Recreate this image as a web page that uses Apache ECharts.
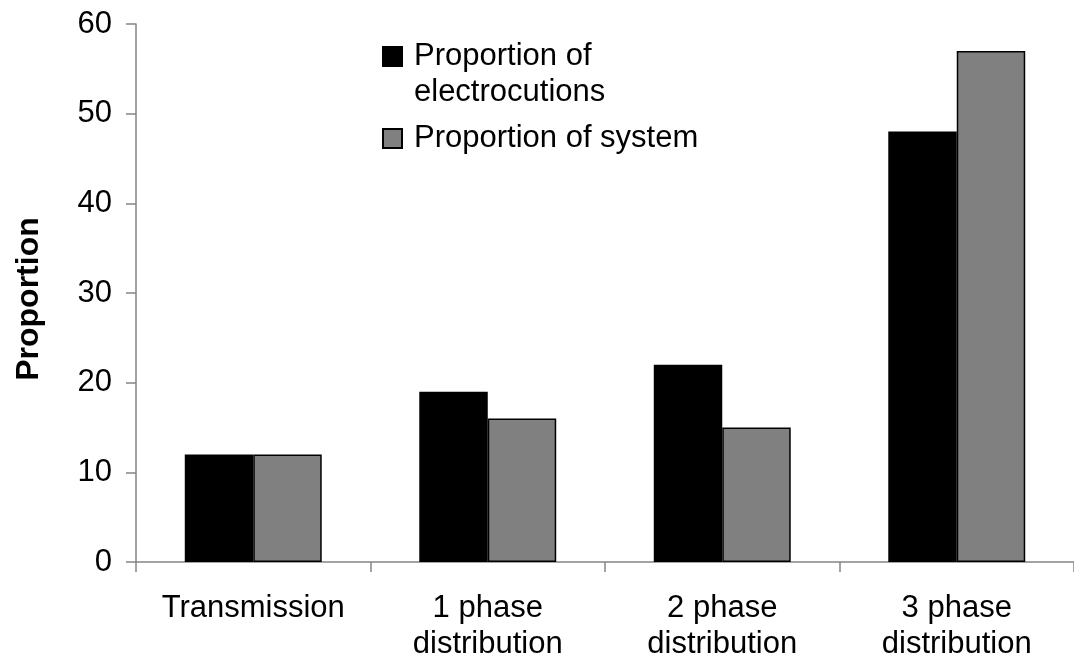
<!DOCTYPE html>
<html>
<head>
<meta charset="utf-8">
<script src="https://cdn.jsdelivr.net/npm/echarts@6/dist/echarts.min.js"></script>
<style>
html,body{margin:0;padding:0;background:#fff;}
#chart{width:1074px;height:667px;}
</style>
</head>
<body>
<div id="chart"></div>
<script>
const categories = ['Transmission', '1 phase\ndistribution', '2 phase\ndistribution', '3 phase\ndistribution'];
const electrocutions = [12, 19, 22, 48];
const system = [12, 16, 15, 57];
const seriesNames = ['Proportion of electrocutions', 'Proportion of system'];
const yTicks = [0, 10, 20, 30, 40, 50, 60];

const FONT = '"Liberation Sans", Arial, sans-serif';
const FS = 31;
const LH = 36;

const chart = echarts.init(document.getElementById('chart'));
chart.setOption({
  animation: false,
  backgroundColor: '#fff',
  grid: { left: 136, right: -8, top: 24, bottom: 105, containLabel: false },
  legend: [
    {
      data: [seriesNames[0]],
      left: 382, top: 2.5, padding: 0,
      itemWidth: 19, itemHeight: 19,
      icon: 'rect',
      formatter: () => '\nProportion of\nelectrocutions',
      textStyle: { fontFamily: FONT, fontSize: FS, color: '#000', lineHeight: LH, padding: [0, 0, 0, 7] },
      selectedMode: false
    },
    {
      data: [seriesNames[1]],
      left: 382, top: 120.5, padding: 0,
      itemWidth: 19, itemHeight: 19,
      icon: 'rect',
      textStyle: { fontFamily: FONT, fontSize: FS, color: '#000', lineHeight: LH, padding: [0, 0, 0, 7] },
      selectedMode: false
    }
  ],
  xAxis: {
    type: 'category',
    data: categories,
    axisLine: { lineStyle: { color: '#858585', width: 1.5 } },
    axisTick: { show: true, length: 10, inside: false, lineStyle: { color: '#858585', width: 1.5 } },
    axisLabel: { fontFamily: FONT, fontSize: FS, color: '#000', lineHeight: LH, margin: 28, interval: 0 }
  },
  yAxis: {
    type: 'value',
    min: yTicks[0], max: yTicks[yTicks.length - 1], interval: 10,
    name: 'Proportion',
    nameLocation: 'middle',
    nameGap: 91,
    nameRotate: 90,
    nameTextStyle: { fontFamily: FONT, fontSize: 32, fontWeight: 'bold', color: '#000', padding: [0, 12, 0, 0] },
    axisLine: { show: true, lineStyle: { color: '#858585', width: 1.5 } },
    axisTick: { show: true, length: 10, lineStyle: { color: '#858585', width: 1.5 } },
    splitLine: { show: false },
    axisLabel: { fontFamily: FONT, fontSize: FS, color: '#000', margin: 24 }
  },
  series: [
    {
      name: seriesNames[0], type: 'bar', data: electrocutions,
      barGap: '0%', barCategoryGap: '41.6%',
      itemStyle: { color: '#000000', borderColor: '#000', borderWidth: 1.5 }
    },
    {
      name: seriesNames[1], type: 'bar', data: system,
      barGap: '0%', barCategoryGap: '41.6%',
      itemStyle: { color: '#808080', borderColor: '#000', borderWidth: 1.5 }
    }
  ]
});
</script>
</body>
</html>
